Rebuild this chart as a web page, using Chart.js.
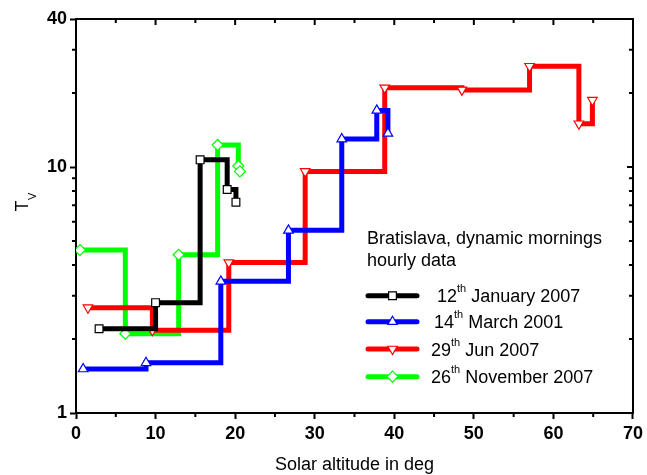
<!DOCTYPE html>
<html>
<head>
<meta charset="utf-8">
<script src="https://cdn.jsdelivr.net/npm/chart.js@4/dist/chart.umd.min.js"></script>
<style>
  html, body { margin: 0; padding: 0; background: #fff; }
  #wrap { width: 647px; height: 475px; }
</style>
</head>
<body>
<div id="wrap"><canvas id="chart" width="647" height="475"></canvas></div>
<script>
var FONT = '"Liberation Sans", Arial, Helvetica, sans-serif';

// solar altitude (deg) / Tv
var janAlt = [2.9, 10.0, 15.6, 19.0, 20.1];
var janTv  = [2.20, 2.81, 10.7, 8.1, 7.2];

var marAlt = [0.9, 8.8, 18.2, 26.7, 33.4, 37.8, 39.2];
var marTv  = [1.51, 1.60, 3.43, 5.53, 13.0, 17.0, 13.7];

var junAlt = [1.5, 9.6, 19.2, 28.8, 38.8, 48.5, 57.0, 63.2, 64.9];
var junTv  = [2.68, 2.17, 4.09, 9.6, 21.0, 20.6, 25.7, 15.0, 18.7];

var novAlt = [0.5, 6.2, 12.9, 17.8, 20.4, 20.6];
var novTv  = [4.6, 2.1, 4.4, 12.3, 10.1, 9.6];

var seriesDays   = ['12', '14', '29', '26'];
var seriesLabels = ['January 2007', 'March 2001', 'Jun 2007', 'November 2007'];
var seriesColors = ['#000000', '#0000ff', '#ff0000', '#00ff00'];

var yTickLabels = [1, 10, 40];
var yMinor = [2, 3, 4, 5, 6, 7, 8, 9, 20, 30];
var xMinor = [5, 15, 25, 35, 45, 55, 65];

function pts(xs, ys) {
  return xs.map(function(x, i) { return {x: x, y: ys[i]}; });
}

function makeSet(i, xs, ys, style, rot) {
  return {
    label: seriesDays[i] + 'th ' + seriesLabels[i],
    data: pts(xs, ys),
    stepped: true,
    borderColor: seriesColors[i],
    borderWidth: 5,
    borderJoinStyle: 'miter',
    pointStyle: style,
    pointRotation: rot || 0,
    pointRadius: 5.5,
    pointHoverRadius: 5.5,
    pointBackgroundColor: '#fff',
    pointBorderColor: seriesColors[i],
    pointBorderWidth: 1.2,
    fill: false
  };
}

// draws a marker like the chart's points, for the legend
function marker(ctx, style, rot, x, y, r, color) {
  ctx.save();
  ctx.beginPath();
  if (style === 'rect') {
    var s = r * Math.SQRT1_2;
    ctx.rect(x - s, y - s, 2 * s, 2 * s);
  } else if (style === 'rectRot') {
    ctx.moveTo(x, y - r); ctx.lineTo(x + r, y); ctx.lineTo(x, y + r); ctx.lineTo(x - r, y);
    ctx.closePath();
  } else {
    var a = rot * Math.PI / 180;
    for (var k = 0; k < 3; k++) {
      var px = x + Math.sin(a) * r, py = y - Math.cos(a) * r;
      if (k === 0) ctx.moveTo(px, py); else ctx.lineTo(px, py);
      a += 2 * Math.PI / 3;
    }
    ctx.closePath();
  }
  ctx.fillStyle = '#fff';
  ctx.fill();
  ctx.lineWidth = 1.2;
  ctx.strokeStyle = color;
  ctx.stroke();
  ctx.restore();
}

var legendStyles = [['rect', 0], ['triangle', 0], ['triangle', 180], ['rectRot', 0]];

var decor = {
  id: 'decor',
  beforeDatasetsDraw: function(chart) {
    var ctx = chart.ctx, a = chart.chartArea;
    var sx = chart.scales.x, sy = chart.scales.y;
    ctx.save();
    ctx.strokeStyle = '#000';
    ctx.lineWidth = 2;
    ctx.strokeRect(a.left, a.top, a.right - a.left, a.bottom - a.top);
    ctx.beginPath();
    // minor ticks, bottom outward and top inward
    xMinor.forEach(function(v) {
      var px = sx.getPixelForValue(v);
      ctx.moveTo(px, a.bottom); ctx.lineTo(px, a.bottom + 4);
      ctx.moveTo(px, a.top); ctx.lineTo(px, a.top + 4);
    });
    for (var v = 10; v <= 60; v += 10) {
      var px = sx.getPixelForValue(v);
      ctx.moveTo(px, a.top); ctx.lineTo(px, a.top + 6);
    }
    yMinor.forEach(function(v) {
      var py = sy.getPixelForValue(v);
      ctx.moveTo(a.left, py); ctx.lineTo(a.left - 4, py);
      ctx.moveTo(a.right, py); ctx.lineTo(a.right - 4, py);
    });
    var p10 = sy.getPixelForValue(10);
    ctx.moveTo(a.right, p10); ctx.lineTo(a.right - 6, p10);
    ctx.stroke();
    ctx.restore();
  },
  afterDraw: function(chart) {
    var ctx = chart.ctx, a = chart.chartArea;
    ctx.save();
    ctx.fillStyle = '#000';

    // axis titles
    ctx.font = '18px ' + FONT;
    ctx.textAlign = 'center';
    ctx.textBaseline = 'middle';
    ctx.fillText('Solar altitude in deg', (a.left + a.right) / 2, 465);

    ctx.save();
    ctx.translate(28, 206);
    ctx.rotate(-Math.PI / 2);
    ctx.textBaseline = 'alphabetic';
    ctx.textAlign = 'center';
    ctx.fillText('T', 0, 0);
    ctx.font = '11px ' + FONT;
    ctx.textAlign = 'left';
    ctx.fillText('V', 6, 7.5);
    ctx.restore();

    // legend
    ctx.textAlign = 'left';
    ctx.textBaseline = 'alphabetic';
    ctx.font = '18px ' + FONT;
    ctx.fillText('Bratislava, dynamic mornings', 367, 243.5);
    ctx.fillText('hourly data', 367, 266);

    var rows = [295.7, 321.7, 349, 376.7];
    var textX = [437, 434, 431, 431];
    rows.forEach(function(y, i) {
      ctx.save();
      ctx.strokeStyle = seriesColors[i];
      ctx.lineWidth = 5;
      ctx.lineCap = 'round';
      ctx.beginPath();
      ctx.moveTo(368, y); ctx.lineTo(417, y);
      ctx.stroke();
      ctx.restore();
      marker(ctx, legendStyles[i][0], legendStyles[i][1], 392.5, y, 5.5, seriesColors[i]);

      var x = textX[i];
      ctx.font = '18px ' + FONT;
      ctx.fillText(seriesDays[i], x, y + 6.5);
      x += ctx.measureText(seriesDays[i]).width;
      ctx.font = '11px ' + FONT;
      ctx.fillText('th', x, y - 3.5);
      x += ctx.measureText('th').width;
      ctx.font = '18px ' + FONT;
      x += ctx.measureText(' ').width;
      ctx.fillText(seriesLabels[i], x, y + 6.5);
    });
    ctx.restore();
  }
};

new Chart(document.getElementById('chart'), {
  type: 'line',
  data: {
    datasets: [
      makeSet(0, janAlt, janTv, 'rect'),
      makeSet(1, marAlt, marTv, 'triangle'),
      makeSet(2, junAlt, junTv, 'triangle', 180),
      makeSet(3, novAlt, novTv, 'rectRot')
    ]
  },
  options: {
    responsive: false,
    animation: false,
    devicePixelRatio: 1,
    layout: { padding: { top: 19, right: 11, left: 0, bottom: 0 } },
    plugins: {
      legend: { display: false },
      tooltip: { enabled: false }
    },
    scales: {
      x: {
        type: 'linear',
        min: 0,
        max: 70,
        ticks: {
          stepSize: 10,
          color: '#000',
          padding: 4,
          font: { family: FONT, size: 18, weight: 'bold' }
        },
        grid: { drawOnChartArea: false, tickLength: 6, tickWidth: 2, color: '#000' },
        border: { color: '#000', width: 2 },
        afterFit: function(s) { s.height = 62; }
      },
      y: {
        type: 'logarithmic',
        min: 1,
        max: 40,
        afterBuildTicks: function(s) {
          s.ticks = yTickLabels.map(function(v) { return {value: v}; });
        },
        ticks: {
          color: '#000',
          padding: 3,
          font: { family: FONT, size: 18, weight: 'bold' },
          callback: function(v) { return String(v); }
        },
        grid: { drawOnChartArea: false, tickLength: 6, tickWidth: 2, color: '#000' },
        border: { color: '#000', width: 2 },
        afterFit: function(s) { s.width = 76; }
      }
    }
  },
  plugins: [decor]
});
</script>
</body>
</html>
